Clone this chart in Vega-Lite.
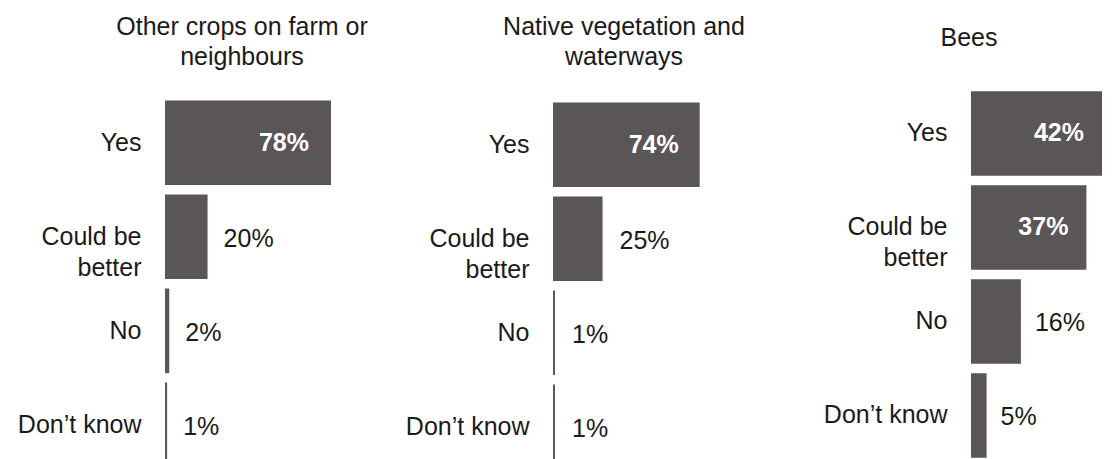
{
  "$schema": "https://vega.github.io/schema/vega-lite/v6.json",
  "background": "white",
  "padding": {"left": 17, "top": 15, "right": 0, "bottom": 0},
  "autosize": {"type": "pad"},
  "config": {"view": {"stroke": null}, "font": "Liberation Sans"},
  "data": {"values": [
    {"panel": "crops", "answer": "Yes", "value": 0.78},
    {"panel": "crops", "answer": "Could be better", "value": 0.20},
    {"panel": "crops", "answer": "No", "value": 0.02},
    {"panel": "crops", "answer": "Don’t know", "value": 0.01},
    {"panel": "native", "answer": "Yes", "value": 0.74},
    {"panel": "native", "answer": "Could be better", "value": 0.25},
    {"panel": "native", "answer": "No", "value": 0.01},
    {"panel": "native", "answer": "Don’t know", "value": 0.01},
    {"panel": "bees", "answer": "Yes", "value": 0.42},
    {"panel": "bees", "answer": "Could be better", "value": 0.37},
    {"panel": "bees", "answer": "No", "value": 0.16},
    {"panel": "bees", "answer": "Don’t know", "value": 0.05}
  ]},
  "bounds": "flush",
  "align": "each",
  "spacing": 20,
  "hconcat": [
    {
      "title": {"text": ["Other crops on farm or", "neighbours"], "frame": "group", "anchor": "start", "align": "center", "dx": 77, "fontSize": 25, "fontWeight": "normal", "lineHeight": 30, "baseline": "bottom", "offset": -9, "color": "#1a1a1a"},
      "width": 368, "height": 390,
      "transform": [{"filter": "datum.panel == 'crops'"}],
      "encoding": {
        "y": {"field": "answer", "type": "nominal", "sort": ["Yes", "Could be better", "No", "Don’t know"],
              "scale": {"paddingInner": 0.1, "paddingOuter": 0.1245, "align": 0.62},
              "axis": {"title": null, "domain": false, "ticks": false, "labelFontSize": 25, "labelPadding": 24, "labelColor": "#1a1a1a", "labelLineHeight": 31, "labelLimit": 300,
                       "labelExpr": "datum.label == 'Could be better' ? ['Could be', 'better'] : datum.label"}},
        "x": {"field": "value", "type": "quantitative", "scale": {"domain": [0, 1.729], "nice": false, "zero": true}, "axis": null}
      },
      "layer": [
        {"mark": {"type": "bar", "color": "#5a5557"}},
        {"transform": [{"filter": "datum.value >= 0.3"}],
         "mark": {"type": "text", "align": "right", "baseline": "middle", "dx": -22, "fontSize": 25, "fontWeight": "bold", "color": "white"},
         "encoding": {"text": {"field": "value", "format": ".0%"}}},
        {"transform": [{"filter": "datum.value < 0.3"}],
         "mark": {"type": "text", "align": "left", "baseline": "middle", "dx": 16, "dy": 2, "fontSize": 25, "color": "#1a1a1a"},
         "encoding": {"text": {"field": "value", "format": ".0%"}}}
      ]
    },
    {
      "title": {"text": ["Native vegetation and", "waterways"], "frame": "group", "anchor": "start", "align": "center", "dx": 71, "fontSize": 25, "fontWeight": "normal", "lineHeight": 30, "baseline": "bottom", "offset": -9, "color": "#1a1a1a"},
      "width": 398, "height": 390,
      "transform": [{"filter": "datum.panel == 'native'"}],
      "encoding": {
        "y": {"field": "answer", "type": "nominal", "sort": ["Yes", "Could be better", "No", "Don’t know"],
              "scale": {"paddingInner": 0.1, "paddingOuter": 0.1245, "align": 0.7},
              "axis": {"title": null, "domain": false, "ticks": false, "labelFontSize": 25, "labelPadding": 24, "labelColor": "#1a1a1a", "labelLineHeight": 31, "labelLimit": 300,
                       "labelExpr": "datum.label == 'Could be better' ? ['Could be', 'better'] : datum.label"}},
        "x": {"field": "value", "type": "quantitative", "scale": {"domain": [0, 2.008], "nice": false, "zero": true}, "axis": null}
      },
      "layer": [
        {"mark": {"type": "bar", "color": "#5a5557"}},
        {"transform": [{"filter": "datum.value >= 0.3"}],
         "mark": {"type": "text", "align": "right", "baseline": "middle", "dx": -21, "fontSize": 25, "fontWeight": "bold", "color": "white"},
         "encoding": {"text": {"field": "value", "format": ".0%"}}},
        {"transform": [{"filter": "datum.value < 0.3"}],
         "mark": {"type": "text", "align": "left", "baseline": "middle", "dx": 17, "dy": 2, "fontSize": 25, "color": "#1a1a1a"},
         "encoding": {"text": {"field": "value", "format": ".0%"}}}
      ]
    },
    {
      "title": {"text": "Bees", "frame": "group", "anchor": "start", "align": "center", "dx": -2, "fontSize": 25, "fontWeight": "normal", "baseline": "bottom", "offset": 10, "color": "#1a1a1a"},
      "width": 131, "height": 390,
      "transform": [{"filter": "datum.panel == 'bees'"}],
      "encoding": {
        "y": {"field": "answer", "type": "nominal", "sort": ["Yes", "Could be better", "No", "Don’t know"],
              "scale": {"paddingInner": 0.1, "paddingOuter": 0.1245, "align": 0.22},
              "axis": {"title": null, "domain": false, "ticks": false, "labelFontSize": 25, "labelPadding": 24, "labelColor": "#1a1a1a", "labelLineHeight": 31, "labelLimit": 300,
                       "labelExpr": "datum.label == 'Could be better' ? ['Could be', 'better'] : datum.label"}},
        "x": {"field": "value", "type": "quantitative", "scale": {"domain": [0, 0.42], "nice": false, "zero": true}, "axis": null}
      },
      "layer": [
        {"mark": {"type": "bar", "color": "#5a5557"}},
        {"transform": [{"filter": "datum.value >= 0.3"}],
         "mark": {"type": "text", "align": "right", "baseline": "middle", "dx": -18, "fontSize": 25, "fontWeight": "bold", "color": "white"},
         "encoding": {"text": {"field": "value", "format": ".0%"}}},
        {"transform": [{"filter": "datum.value < 0.3"}],
         "mark": {"type": "text", "align": "left", "baseline": "middle", "dx": 14, "dy": 2, "fontSize": 25, "color": "#1a1a1a"},
         "encoding": {"text": {"field": "value", "format": ".0%"}}}
      ]
    }
  ]
}
